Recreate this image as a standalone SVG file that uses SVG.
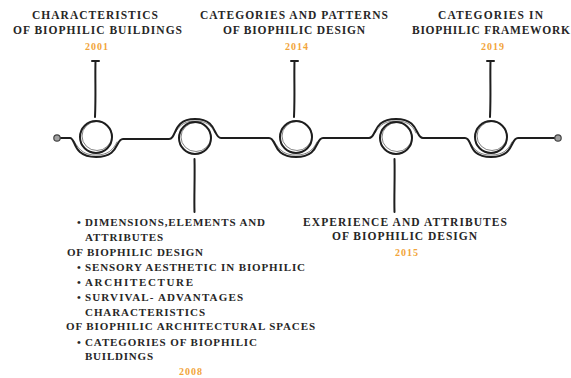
<svg xmlns="http://www.w3.org/2000/svg" width="571" height="378" viewBox="0 0 571 378">
<style>
.ln{fill:none;stroke:#1e1e1e;stroke-width:2;stroke-linecap:round;stroke-linejoin:round}
.ln2{fill:none;stroke:#1e1e1e;stroke-width:1;stroke-opacity:0.55;stroke-linecap:round}
.end{fill:#a0a0a0;stroke:#444;stroke-width:1.2}
.t{font-family:"Liberation Serif","Times New Roman",serif;font-size:11.5px;font-weight:bold;fill:#262626}
.s{font-size:11px}
.c{text-anchor:middle}
.y{font-family:"Liberation Serif","Times New Roman",serif;font-size:10px;font-weight:bold;fill:#F2A43A;text-anchor:middle;letter-spacing:1px}
</style>
<g id="connectors">
<path class="ln" d="M60,138 L70,138 C76,138 72,157 96,157 C120,157 115,139 123,139 L169,139 C177,139 172,119 195,119 C218,119 213,138 221,138 L269,138 C277,138 272,157 296,157 C320,157 315,138 323,138 L369,138 C377,138 372,119 396,119 C420,119 415,138 423,138 L465,138 C473,138 467,157 491,157 C515,157 510,138 518,138 L555,138"/>
<path class="ln2" d="M74,141 C80,152 86,155 96,155 C108,155 113,150 117,142"/>
<path class="ln2" d="M175,133 C180,124 186,121 195,121 C205,121 211,124 215,133"/>
<path class="ln2" d="M274,141 C280,152 286,155 296,155 C308,155 313,150 317,142"/>
<path class="ln2" d="M375,133 C380,124 386,121 396,121 C406,121 412,124 416,133"/>
<path class="ln2" d="M469,141 C475,152 481,155 491,155 C503,155 508,150 512,142"/>
<circle class="end" cx="57" cy="138" r="3.2"/>
<circle class="end" cx="558" cy="138" r="3.2"/>
<path class="ln" d="M92,61 L99,61 M95.5,61 C95,80 96,95 95,117"/>
<path class="ln" d="M291,61 L298,61 M294.5,61 C294,80 295,95 294,117"/>
<path class="ln" d="M487,61 L494,61 M490.5,61 C490,80 491,95 490,117"/>
<path class="ln" d="M194.5,159 C195,180 194,195 194.5,212"/>
<path class="ln" d="M394.5,159 C395,180 394,195 394.5,212"/>
</g>
<g id="node1">
<circle class="ln" cx="96" cy="137" r="16"/>
<ellipse class="ln2" cx="97" cy="136" rx="15" ry="14.5"/>
<text class="t c" x="95" y="19" textLength="126" lengthAdjust="spacing">CHARACTERISTICS</text>
<text class="t c" x="97.5" y="34" textLength="169" lengthAdjust="spacing">OF BIOPHILIC BUILDINGS</text>
<text class="y" x="97" y="50">2001</text>
</g>
<g id="node2">
<circle class="ln" cx="195" cy="138" r="16"/>
<ellipse class="ln2" cx="196" cy="137" rx="15" ry="14.5"/>
<text class="t s" x="77" y="225.5">•</text>
<text class="t s" x="85" y="225.5" textLength="180" lengthAdjust="spacing">DIMENSIONS,ELEMENTS AND</text>
<text class="t s" x="85" y="240.5" textLength="78" lengthAdjust="spacing">ATTRIBUTES</text>
<text class="t s" x="67" y="255.5" textLength="136" lengthAdjust="spacing">OF BIOPHILIC DESIGN</text>
<text class="t s" x="77" y="271">•</text>
<text class="t s" x="85" y="271" textLength="220" lengthAdjust="spacing">SENSORY AESTHETIC IN BIOPHILIC</text>
<text class="t s" x="77" y="286">•</text>
<text class="t s" x="85" y="286" textLength="108" lengthAdjust="spacing">ARCHITECTURE</text>
<text class="t s" x="77" y="300.5">•</text>
<text class="t s" x="85" y="300.5" textLength="158" lengthAdjust="spacing">SURVIVAL- ADVANTAGES</text>
<text class="t s" x="85" y="315.5" textLength="120" lengthAdjust="spacing">CHARACTERISTICS</text>
<text class="t s" x="66" y="330" textLength="249" lengthAdjust="spacing">OF BIOPHILIC ARCHITECTURAL SPACES</text>
<text class="t s" x="77" y="345.5">•</text>
<text class="t s" x="85" y="345.5" textLength="172" lengthAdjust="spacing">CATEGORIES OF BIOPHILIC</text>
<text class="t s" x="85" y="360" textLength="68" lengthAdjust="spacing">BUILDINGS</text>
<text class="y" x="191" y="375">2008</text>
</g>
<g id="node3">
<circle class="ln" cx="296" cy="137" r="16"/>
<ellipse class="ln2" cx="297" cy="136" rx="15" ry="14.5"/>
<text class="t c" x="294" y="19" textLength="188" lengthAdjust="spacing">CATEGORIES AND PATTERNS</text>
<text class="t c" x="294" y="34" textLength="142" lengthAdjust="spacing">OF BIOPHILIC DESIGN</text>
<text class="y" x="297" y="50">2014</text>
</g>
<g id="node4">
<circle class="ln" cx="396" cy="138" r="16"/>
<ellipse class="ln2" cx="397" cy="137" rx="15" ry="14.5"/>
<text class="t c" x="405" y="226" textLength="204" lengthAdjust="spacing">EXPERIENCE AND ATTRIBUTES</text>
<text class="t c" x="404.5" y="240" textLength="145" lengthAdjust="spacing">OF BIOPHILIC DESIGN</text>
<text class="y" x="407" y="256">2015</text>
</g>
<g id="node5">
<circle class="ln" cx="491" cy="137" r="16"/>
<ellipse class="ln2" cx="492" cy="136" rx="15" ry="14.5"/>
<text class="t c" x="490.5" y="19" textLength="105" lengthAdjust="spacing">CATEGORIES IN</text>
<text class="t c" x="491" y="34" textLength="158" lengthAdjust="spacing">BIOPHILIC FRAMEWORK</text>
<text class="y" x="493" y="50">2019</text>
</g>
</svg>
